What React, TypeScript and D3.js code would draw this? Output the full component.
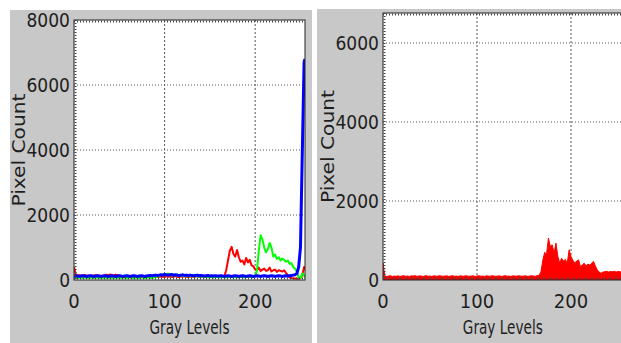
import React from 'react';
import * as d3 from 'd3';

// gray levels sampled every 2 levels (plus the last one)
const GRAY_LEVELS = [
  0, 2, 4, 6, 8, 10, 12, 14, 16, 18, 20, 22, 24, 26, 28, 30,
  32, 34, 36, 38, 40, 42, 44, 46, 48, 50, 52, 54, 56, 58, 60, 62,
  64, 66, 68, 70, 72, 74, 76, 78, 80, 82, 84, 86, 88, 90, 92, 94,
  96, 98, 100, 102, 104, 106, 108, 110, 112, 114, 116, 118, 120, 122, 124, 126,
  128, 130, 132, 134, 136, 138, 140, 142, 144, 146, 148, 150, 152, 154, 156, 158,
  160, 162, 164, 166, 168, 170, 172, 174, 176, 178, 180, 182, 184, 186, 188, 190,
  192, 194, 196, 198, 200, 202, 204, 206, 208, 210, 212, 214, 216, 218, 220, 222,
  224, 226, 228, 230, 232, 234, 236, 238, 240, 242, 244, 246, 248, 250, 252, 254,
  255,
];

// left histogram: red / green / blue channels
const RED_COUNTS = [
  400, 160, 140, 150, 130, 140, 150, 130, 140, 120, 130, 140, 150, 140, 130, 120,
  130, 140, 160, 150, 170, 150, 140, 160, 150, 130, 120, 110, 120, 100, 110, 100,
  100, 90, 110, 100, 90, 100, 110, 90, 100, 90, 100, 110, 90, 100, 90, 100,
  110, 100, 90, 120, 100, 110, 90, 100, 130, 100, 90, 110, 100, 120, 100, 90,
  100, 110, 90, 100, 120, 100, 90, 110, 100, 90, 100, 110, 100, 90, 110, 100,
  90, 100, 110, 120, 300, 600, 900, 1020, 800, 720, 920, 700, 560, 600, 480, 680,
  540, 620, 450, 420, 320, 300, 380, 280, 320, 350, 280, 300, 380, 260, 300, 320,
  250, 300, 280, 260, 300, 220, 150, 80, 60, 50, 50, 50, 40, 60, 150, 400,
  300,
];

const GREEN_COUNTS = [
  60, 70, 60, 80, 70, 60, 80, 70, 60, 70, 80, 60, 70, 80, 60, 70,
  70, 80, 60, 70, 80, 70, 60, 80, 70, 60, 70, 80, 70, 60, 80, 70,
  60, 70, 80, 70, 60, 80, 70, 60, 70, 80, 60, 70, 80, 90, 100, 120,
  150, 180, 140, 170, 200, 150, 130, 160, 140, 170, 120, 150, 130, 110, 140, 120,
  110, 130, 100, 120, 140, 100, 110, 90, 120, 100, 80, 90, 100, 80, 90, 100,
  80, 90, 100, 80, 90, 80, 100, 90, 80, 100, 90, 80, 100, 90, 80, 100,
  90, 100, 80, 100, 120, 300, 900, 1380, 1250, 1000, 850, 950, 1140, 1000, 720, 780,
  650, 700, 600, 660, 620, 560, 600, 500, 520, 400, 350, 250, 80, 60, 200, 150,
  60,
];

const BLUE_COUNTS = [
  120, 130, 120, 110, 120, 130, 120, 110, 120, 130, 120, 110, 120, 130, 120, 110,
  120, 130, 120, 110, 120, 130, 120, 110, 120, 130, 120, 110, 120, 130, 120, 110,
  120, 130, 120, 110, 120, 130, 120, 110, 120, 130, 140, 130, 140, 150, 140, 150,
  160, 150, 170, 160, 150, 160, 170, 150, 160, 150, 140, 150, 160, 140, 150, 140,
  150, 140, 130, 140, 150, 130, 140, 130, 120, 130, 140, 120, 130, 120, 130, 120,
  120, 130, 120, 110, 120, 130, 120, 110, 120, 130, 120, 110, 120, 130, 120, 110,
  120, 130, 120, 110, 120, 130, 120, 110, 120, 130, 120, 110, 120, 130, 120, 110,
  120, 130, 120, 110, 120, 130, 120, 130, 140, 150, 160, 200, 400, 1000, 3900, 6700,
  6800,
];

// right histogram: red channel only
const RIGHT_RED_COUNTS = [
  430, 100, 90, 100, 110, 90, 100, 95, 105, 90, 100, 110, 95, 100, 90, 105,
  100, 110, 95, 100, 105, 90, 100, 110, 95, 100, 90, 105, 100, 95, 110, 100,
  95, 100, 105, 90, 100, 110, 95, 100, 90, 105, 100, 95, 110, 100, 95, 100,
  105, 90, 100, 110, 95, 100, 90, 105, 100, 95, 110, 100, 95, 100, 105, 90,
  100, 110, 95, 100, 90, 105, 100, 95, 110, 100, 95, 100, 105, 90, 100, 110,
  100, 95, 110, 120, 200, 500, 700, 650, 1060, 850, 890, 680, 935, 600, 430, 550,
  480, 520, 420, 765, 595, 500, 430, 480, 510, 340, 380, 425, 360, 400, 380, 425,
  470, 350, 255, 200, 170, 200, 210, 220, 200, 215, 210, 220, 200, 215, 210, 200,
  210,
];

const X_TICKS = [0, 100, 200];
const LEFT_Y_TICKS = [0, 2000, 4000, 6000, 8000];
const RIGHT_Y_TICKS = [0, 2000, 4000, 6000];
const X_LABEL = 'Gray Levels';
const Y_LABEL = 'Pixel Count';

const FONT = "'Liberation Sans Narrow', 'DejaVu Sans Condensed', 'Liberation Sans', sans-serif";
const TEXT = '#1e1e1e';
const GRID = '#555';

type Series = { counts: number[]; color: string; width: number; fill?: boolean };

type PanelProps = {
  bg: [number, number, number, number];
  left: number;
  right: number;
  top: number;
  bottom: number;
  yMax: number;
  yTicks: number[];
  yLabelX: number;
  series: Series[];
};

const Panel = ({ bg, left, right, top, bottom, yMax, yTicks, yLabelX, series }: PanelProps) => {
  const x = d3.scaleLinear().domain([0, 255]).range([left, right]);
  const y = d3.scaleLinear().domain([0, yMax]).range([bottom, top]);
  const pts = (c: number[]) => GRAY_LEVELS.map((g, i) => [g, c[i]] as [number, number]);
  const line = d3.line<[number, number]>().x(d => x(d[0])).y(d => y(d[1]));
  const area = d3.area<[number, number]>().x(d => x(d[0])).y0(y(0)).y1(d => y(d[1]));
  const clipId = `clip-${left}`;
  const midY = (top + bottom) / 2;

  return (
    <g>
      <rect x={bg[0]} y={bg[1]} width={bg[2]} height={bg[3]} fill="#c8c8c8" />
      <rect x={left} y={top} width={right - left} height={bottom - top} fill="#fff" />
      <clipPath id={clipId}>
        <rect x={left} y={top} width={right - left} height={bottom - top} />
      </clipPath>

      {/* grid */}
      {yTicks.filter(t => t > 0 && y(t) > top + 2).map(t => (
        <line key={`gy${t}`} x1={left} x2={right} y1={y(t)} y2={y(t)}
          stroke={GRID} strokeWidth={1} strokeDasharray="1,2" />
      ))}
      {X_TICKS.filter(t => t > 0).map(t => (
        <line key={`gx${t}`} x1={x(t)} x2={x(t)} y1={top} y2={bottom}
          stroke={GRID} strokeWidth={1} strokeDasharray="2,2" />
      ))}

      <g clipPath={`url(#${clipId})`}>
        {series.map((s, i) => s.fill
          ? <path key={i} d={area(pts(s.counts)) || ''} fill={s.color} stroke={s.color} strokeWidth={s.width} />
          : <path key={i} d={line(pts(s.counts)) || ''} fill="none" stroke={s.color} strokeWidth={s.width} strokeLinejoin="round" />
        )}
      </g>

      {/* box with the dotted tick edge */}
      <rect x={left} y={top} width={right - left} height={bottom - top} fill="none" stroke="#222" strokeWidth={1} />
      <line x1={left} x2={right} y1={top + 1.5} y2={top + 1.5} stroke="#444" strokeWidth={2} strokeDasharray="1,2" />
      <line x1={left} x2={right} y1={bottom - 1.5} y2={bottom - 1.5} stroke="#444" strokeWidth={2} strokeDasharray="1,2" />
      <line x1={left + 1.5} x2={left + 1.5} y1={top} y2={bottom} stroke="#444" strokeWidth={2} strokeDasharray="1,2" />

      {/* tick labels */}
      {yTicks.map(t => (
        <text key={`ly${t}`} x={left - 4} y={y(t)} dy="0.36em" textAnchor="end"
          fontFamily={FONT} fontSize={19} fill={TEXT}>{t}</text>
      ))}
      {X_TICKS.map(t => (
        <text key={`lx${t}`} x={x(t)} y={308} textAnchor="middle"
          fontFamily={FONT} fontSize={20} fill={TEXT}>{t}</text>
      ))}

      <text x={(left + right) / 2} y={334} textAnchor="middle" fontFamily={FONT} fontSize={19}
        fill={TEXT} textLength={80} lengthAdjust="spacingAndGlyphs">{X_LABEL}</text>
      <text transform={`translate(${yLabelX},${midY}) rotate(-90)`} textAnchor="middle" dy="0.35em"
        fontFamily={FONT} fontSize={18} fill={TEXT} textLength={113} lengthAdjust="spacingAndGlyphs">{Y_LABEL}</text>
    </g>
  );
};

export default function App() {
  return (
    <svg width={621} height={343} style={{ position: 'fixed', left: 0, top: 0 }}>
      <rect width={621} height={343} fill="#fff" />
      <Panel
        bg={[10, 10, 302, 333]}
        left={74} right={305} top={20} bottom={280}
        yMax={8000} yTicks={LEFT_Y_TICKS} yLabelX={18.5}
        series={[
          { counts: RED_COUNTS, color: '#ff0000', width: 2 },
          { counts: GREEN_COUNTS, color: '#00ff00', width: 2 },
          { counts: BLUE_COUNTS, color: '#0000ff', width: 3 },
        ]}
      />
      <Panel
        bg={[317, 9, 304, 334]}
        left={383} right={622.7} top={13} bottom={280}
        yMax={6760} yTicks={RIGHT_Y_TICKS} yLabelX={327.5}
        series={[{ counts: RIGHT_RED_COUNTS, color: '#ff0000', width: 1, fill: true }]}
      />
    </svg>
  );
}
